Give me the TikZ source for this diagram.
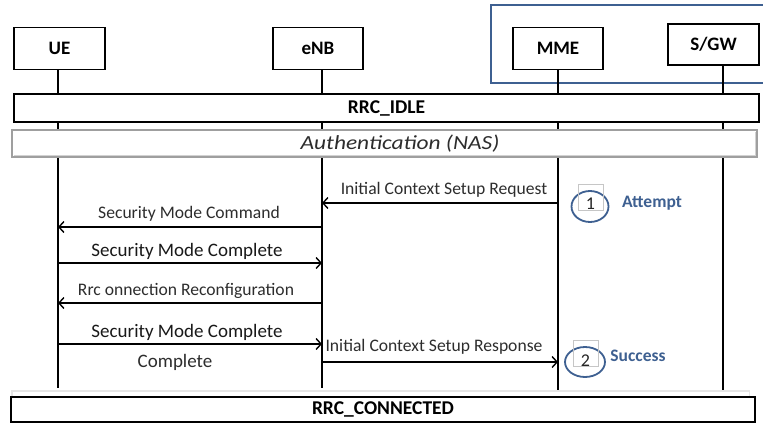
\documentclass[tikz,border=0pt]{standalone}
\usepackage{fontspec}
\usepackage{graphicx}
\setmainfont{Carlito}
\usetikzlibrary{arrows.meta,shapes.geometric}
\definecolor{frameblue}{RGB}{62,96,145}
\definecolor{txtgray}{RGB}{45,45,45}
\begin{document}
\begin{tikzpicture}[x=1pt,y=-1pt,
  entity/.style={draw, line width=1.4pt, fill=white, minimum width=90pt, minimum height=42pt,
    inner sep=0pt, font=\fontsize{19}{22}\selectfont\bfseries},
  barbox/.style={draw, line width=1.4pt, fill=white, inner sep=0pt,
    font=\fontsize{19.5}{22}\selectfont\bfseries},
  lifeline/.style={line width=1.4pt},
  msg/.style={line width=1.4pt, -{Straight Barb[length=5pt,width=11pt,line width=1.4pt]}},
  lbl/.style={text=txtgray, inner sep=0pt, font=\fontsize{17.6}{20}\selectfont},
  biglbl/.style={text=black!90, inner sep=0pt, font=\fontsize{19}{22}\selectfont},
  numbox/.style={draw=gray!45, line width=0.6pt, minimum width=25pt, minimum height=26pt, inner sep=0pt},
  numtxt/.style={inner sep=0pt, text=black!85, font=\fontsize{18}{20}\selectfont},
  ring/.style={ellipse, draw=frameblue, line width=1.8pt, inner sep=0pt},
  note/.style={text=frameblue, inner sep=0pt, font=\fontsize{17.5}{20}\selectfont\bfseries}]
\useasboundingbox (0,0) rectangle (763,423);
\fill[white] (0,0) rectangle (763,423);

% blue frame around core network
\draw[frameblue, line width=1.2pt] (491,5) rectangle (775,83);

% lifeline coordinates
\coordinate (ueT) at (58,69);   \coordinate (ueB) at (58,388);
\coordinate (enbT) at (322,69); \coordinate (enbB) at (322,388);
\coordinate (mmeT) at (558,69); \coordinate (mmeB) at (558,392);
\coordinate (sgwT) at (723,65); \coordinate (sgwB) at (723,392);
\draw[lifeline] (ueT) -- (ueB);
\draw[lifeline] (enbT) -- (enbB);
\draw[lifeline] (mmeT) -- (mmeB);
\draw[lifeline] (sgwT) -- (sgwB);

% entities
\node[entity, minimum width=91pt] (ue) at (59.5,48.5) {UE};
\node[entity] (enb) at (318,48.5) {eNB};
\node[entity] (mme) at (558,48.5) {MME};
\node[entity, minimum width=91pt, minimum height=41pt] (sgw) at (713.5,44.5) {S/GW};

% state bars
\node[barbox, minimum width=745pt, minimum height=28pt] (idle) at (386.5,108) {RRC\_IDLE};
\node[draw=gray!75, line width=1.2pt, fill=white, minimum width=745pt, minimum height=27pt,
  inner sep=0pt] (auth) at (384.5,143.5) {};
\draw[gray!35, line width=1.2pt] ([shift={(2.5,-2.5)}]auth.south west) -- ([shift={(-2.5,-2.5)}]auth.south east)
  -- ([shift={(-2.5,2.5)}]auth.north east);
\node[inner sep=0pt, text=txtgray, font=\fontsize{20}{22}\selectfont\itshape] (authtxt) at (400,143.5)
  {\scalebox{1.17}[1]{Authentication (NAS)}};

% bottom bar
\fill[gray!20] (11,390) rectangle (750,418);
\fill[white] (12.5,391.5) rectangle (748.5,418);
\node[barbox, minimum width=744pt, minimum height=25pt] (conn) at (383,409.5) {RRC\_CONNECTED};

% message endpoints
\coordinate (m1a) at (558,203); \coordinate (m1b) at (322,203);
\coordinate (m2a) at (322,227); \coordinate (m2b) at (58,227);
\coordinate (m3a) at (58,263);  \coordinate (m3b) at (322,263);
\coordinate (m4a) at (322,303); \coordinate (m4b) at (58,303);
\coordinate (m5a) at (58,344);  \coordinate (m5b) at (322,344);
\coordinate (m6a) at (322,362); \coordinate (m6b) at (558,362);

\draw[msg] (m1a) -- (m1b);
\draw[msg] (m2a) -- (m2b);
\draw[msg] (m3a) -- (m3b);
\draw[msg] (m4a) -- (m4b);
\draw[msg] (m5a) -- (m5b);
\draw[msg] (m6a) -- (m6b);

\node[lbl] (l1) at (444,190) {Initial Context Setup Request};
\node[lbl] (l2) at (189,214) {Security Mode Command};
\node[biglbl] (l3) at (187,251) {Security Mode Complete};
\node[lbl] (l4) at (186,291) {Rrc onnection Reconfiguration};
\node[biglbl] (l5) at (187,332) {Security Mode Complete};
\node[lbl, font=\fontsize{19}{22}\selectfont] (l5b) at (175,362) {Complete};
\node[lbl] (l6) at (434,347) {Initial Context Setup Response};

% attempt / success markers
\node[ring, minimum width=37pt, minimum height=31pt] (r1) at (590,206.5) {};
\node[numbox] (n1) at (590.5,197) {};
\node[numtxt] (t1) at (590.5,204) {1};
\node[note] (att) at (652,203) {Attempt};
\node[ring, minimum width=40pt, minimum height=30pt] (r2) at (585,362) {};
\node[numbox] (n2) at (585.5,353.5) {};
\node[numtxt] (t2) at (585.5,360.5) {2};
\node[note] (suc) at (638,356) {Success};
\end{tikzpicture}
\end{document}
